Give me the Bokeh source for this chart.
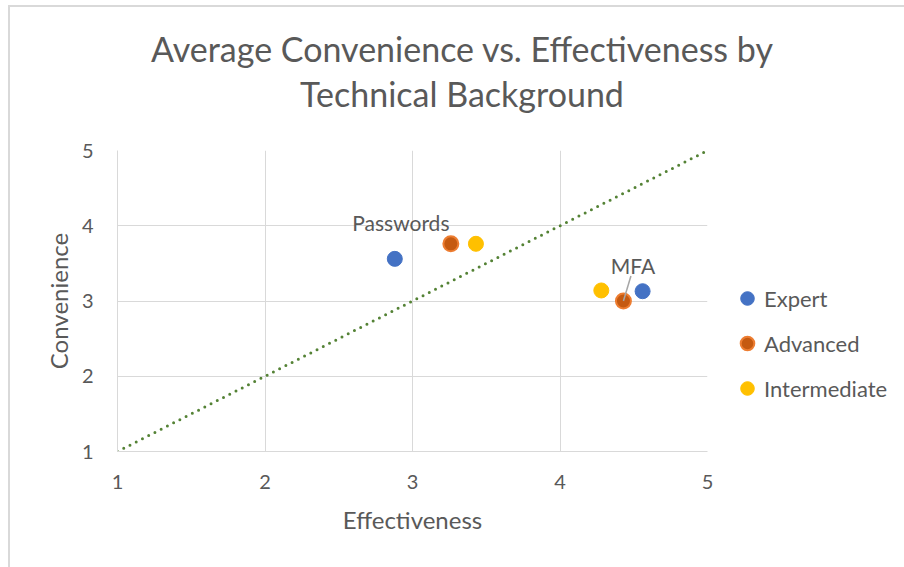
from bokeh.plotting import figure
from bokeh.models import Range1d, Label, Legend, LegendItem, FixedTicker, Div
from bokeh.layouts import column
from bokeh.embed import file_html
from bokeh.resources import INLINE

# Average ratings per technical background: [Passwords, MFA]
methods = ["Passwords", "MFA"]
groups = ["Expert", "Advanced", "Intermediate"]
expert_eff = [2.88, 4.56]
expert_conv = [3.56, 3.13]
advanced_eff = [3.26, 4.43]
advanced_conv = [3.76, 3.00]
intermediate_eff = [3.43, 4.28]
intermediate_conv = [3.76, 3.14]
axis_ticks = [1, 2, 3, 4, 5]
title_lines = ["Average Convenience vs. Effectiveness by", "Technical Background"]

FONT = "Lato"
TEXT = "#595959"
GRID = "#d9d9d9"

# chart title as two centred lines above the plot
header = Div(
    text=(f'<div style="width:894px;padding-top:14px;text-align:center;'
          f'font-family:{FONT};font-size:34px;line-height:45px;color:{TEXT};'
          f'white-space:nowrap;">{title_lines[0]}<br>{title_lines[1]}</div>'),
    width=894, height=100,
)

p = figure(
    width=894, height=450,
    frame_width=590, frame_height=301,
    x_range=Range1d(axis_ticks[0], axis_ticks[-1]),
    y_range=Range1d(axis_ticks[0], axis_ticks[-1]),
    output_backend="svg", toolbar_location=None,
    min_border_left=107, min_border_top=33,
    min_border_right=894 - 107 - 590, min_border_bottom=450 - 33 - 301,
)
p.outline_line_color = None
p.background_fill_color = "white"
p.border_fill_color = "white"

for ax in (p.xaxis, p.yaxis):
    ax.ticker = FixedTicker(ticks=axis_ticks)
    ax.axis_line_color = GRID
    ax.major_tick_line_color = None
    ax.minor_tick_line_color = None
    ax.major_label_text_font = FONT
    ax.major_label_text_font_size = "20px"
    ax.major_label_text_color = TEXT
    ax.axis_label_text_font = FONT
    ax.axis_label_text_font_size = "24px"
    ax.axis_label_text_font_style = "normal"
    ax.axis_label_text_color = TEXT

p.xaxis.axis_label = "Effectiveness"
p.yaxis.axis_label = "Convenience"
p.xaxis.major_label_standoff = 17
p.xaxis.axis_label_standoff = 13
p.yaxis.major_label_standoff = 18
p.yaxis.axis_label_standoff = 6

p.grid.grid_line_color = GRID
p.grid.grid_line_width = 1
p.xgrid.ticker = FixedTicker(ticks=axis_ticks)
p.ygrid.ticker = FixedTicker(ticks=axis_ticks)

# parity line: equal effectiveness and convenience
p.line(axis_ticks, axis_ticks, line_color="#548235", line_width=3,
       line_dash="0 7", line_cap="round")

r_exp = p.scatter(expert_eff, expert_conv, size=15, fill_color="#4472C4",
                  line_color="#4472C4")
r_adv = p.scatter(advanced_eff, advanced_conv, size=15, fill_color="#C55A11",
                  line_color="#ED7D31", line_width=2)
r_int = p.scatter(intermediate_eff, intermediate_conv, size=15, fill_color="#FFC000",
                  line_color="#FFC000")

# pixel scale of the frame, used to place the MFA leader line
px_x = 590 / (axis_ticks[-1] - axis_ticks[0])
px_y = 301 / (axis_ticks[-1] - axis_ticks[0])
mx, my = advanced_eff[1], advanced_conv[1]
p.segment(x0=[mx], y0=[my], x1=[mx + 7.5 / px_x], y1=[my + 25 / px_y],
          line_color="#a6a6a6", line_width=1.5)

p.add_layout(Label(x=advanced_eff[0], y=advanced_conv[0], x_offset=-50, y_offset=21,
                   text=methods[0], text_align="center", text_baseline="middle",
                   text_font=FONT, text_font_size="21px", text_color=TEXT))
p.add_layout(Label(x=mx, y=my, x_offset=9.5, y_offset=36,
                   text=methods[1], text_align="center", text_baseline="middle",
                   text_font=FONT, text_font_size="21px", text_color=TEXT))

legend = Legend(
    items=[LegendItem(label=g, renderers=[r]) for g, r in zip(groups, [r_exp, r_adv, r_int])],
    location=(23, 44),
    glyph_width=34, glyph_height=38, label_height=38, label_standoff=0,
    spacing=7, padding=0, margin=0,
    border_line_color=None, background_fill_alpha=0,
    label_text_font=FONT, label_text_font_size="22px", label_text_color=TEXT,
)
p.add_layout(legend, "right")

page = column(header, p, spacing=0)
page.styles = {"margin-left": "8px", "margin-top": "5px", "background": "white",
               "border-left": "2px solid #d9d9d9", "border-top": "2px solid #d9d9d9"}

open("out.html", "w").write(file_html(page, INLINE))
